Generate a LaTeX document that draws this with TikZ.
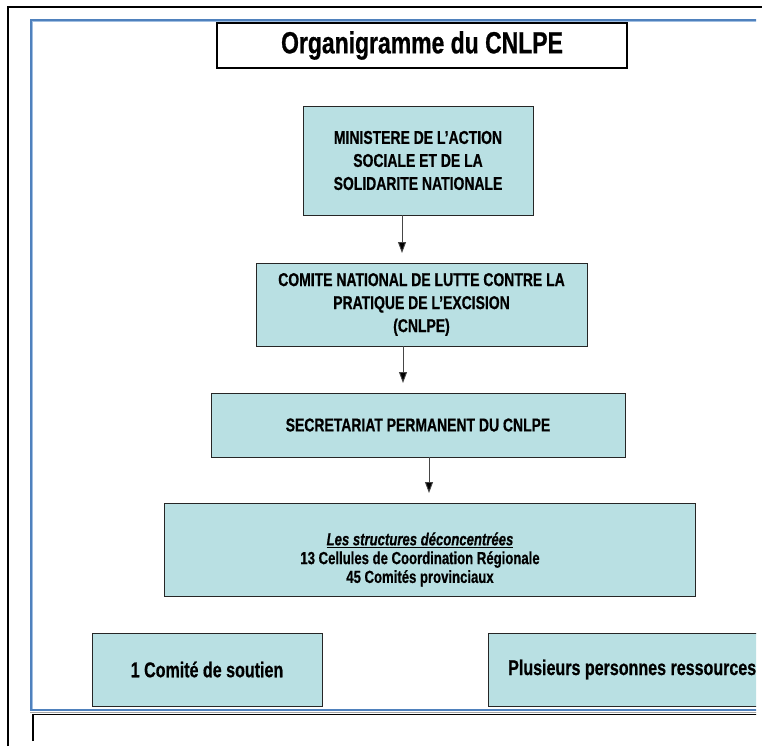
\documentclass[tikz,border=0pt]{standalone}
\usepackage{fontspec}
\setmainfont[FakeStretch=0.75, BoldFeatures={FakeBold=0.6}, BoldItalicFeatures={FakeBold=0.6}]{Liberation Sans}
\usetikzlibrary{arrows.meta}
\definecolor{boxfill}{RGB}{185,224,227}
\definecolor{frameblue}{RGB}{79,129,189}
\definecolor{framelight}{RGB}{160,190,225}
\definecolor{arrowgray}{RGB}{70,70,70}
\tikzset{
  orgbox/.style={draw=black!85, line width=0.9pt, fill=boxfill, inner sep=0pt, align=center},
  titlebox/.style={draw=black, line width=1.1pt, fill=white, inner sep=0pt},
  arr/.style={draw=arrowgray, line width=0.9pt, -{Triangle[length=11pt,width=8pt,fill=black]}},
  bluefr/.style={draw=frameblue, line width=2.2pt},
  bluelt/.style={draw=framelight, line width=0.7pt},
  txtA/.style={font=\bfseries\fontsize{18.6}{23}\selectfont},
  txtB/.style={font=\bfseries\fontsize{21.4}{24}\selectfont},
  txtC/.style={font=\bfseries\fontsize{17.5}{18.8}\selectfont, align=center},
}
\begin{document}
\begin{tikzpicture}[x=1pt,y=-1pt]
\useasboundingbox (0,0) rectangle (767,746);
% outer black frame
\draw[line width=2pt] (8,746) -- (8,7) -- (762,7);
\begin{scope}
\clip (0,0) rectangle (756,746);
% blue frame
\draw[bluefr] (31,710) -- (31,20) -- (757,20);
\draw[bluelt] (32.6,709) -- (32.6,21.6) -- (757,21.6);
\draw[bluefr] (30,710) -- (757,710);
\draw[draw=gray!70, line width=0.6pt] (30,712) -- (757,712);
% lower black box
\draw[line width=1.3pt] (33,741) -- (33,714.5) -- (757,714.5);
% title
\node[titlebox, minimum width=410pt, minimum height=45pt] (title) at (422,45.5)
  {\bfseries\fontsize{30.6}{34}\selectfont Organigramme du CNLPE};
% boxes
\node[orgbox, txtA, minimum width=230pt, minimum height=109pt] (min) at (418,160.5)
  {MINISTERE DE L’ACTION\\SOCIALE ET DE LA\\SOLIDARITE NATIONALE};
\node[orgbox, txtA, minimum width=331pt, minimum height=83pt] (com) at (421.5,304.5)
  {\raisebox{4pt}{\parbox{330pt}{\centering COMITE NATIONAL DE LUTTE CONTRE LA\\PRATIQUE DE L’EXCISION\\(CNLPE)}}};
\node[orgbox, txtA, minimum width=414pt, minimum height=64pt] (sec) at (418,425)
  {SECRETARIAT PERMANENT DU CNLPE};
\node[orgbox, minimum width=531pt, minimum height=93pt] (str) at (429.5,549.5) {};
\node[txtC] (strtxt) at (420,559.5)
  {\underline{\itshape Les structures déconcentrées}\\13 Cellules de Coordination Régionale\\45 Comités provinciaux};
\node[orgbox, txtB, minimum width=230pt, minimum height=73pt] (sout) at (207,669.5)
  {1 Comité de soutien};
\node[orgbox, minimum width=290pt, minimum height=73pt] (pers) at (633,669.5) {};
\node[txtB, anchor=west, inner sep=0pt] (perstxt) at (508,669.5) {Plusieurs personnes ressources};
\end{scope}
% arrows
\coordinate (t1) at (402,253);
\coordinate (t2) at (403,383);
\coordinate (t3) at (429,493);
\draw[arr] (min.south -| t1) -- (t1);
\draw[arr] (com.south -| t2) -- (t2);
\draw[arr] (sec.south -| t3) -- (t3);
\end{tikzpicture}
\end{document}
